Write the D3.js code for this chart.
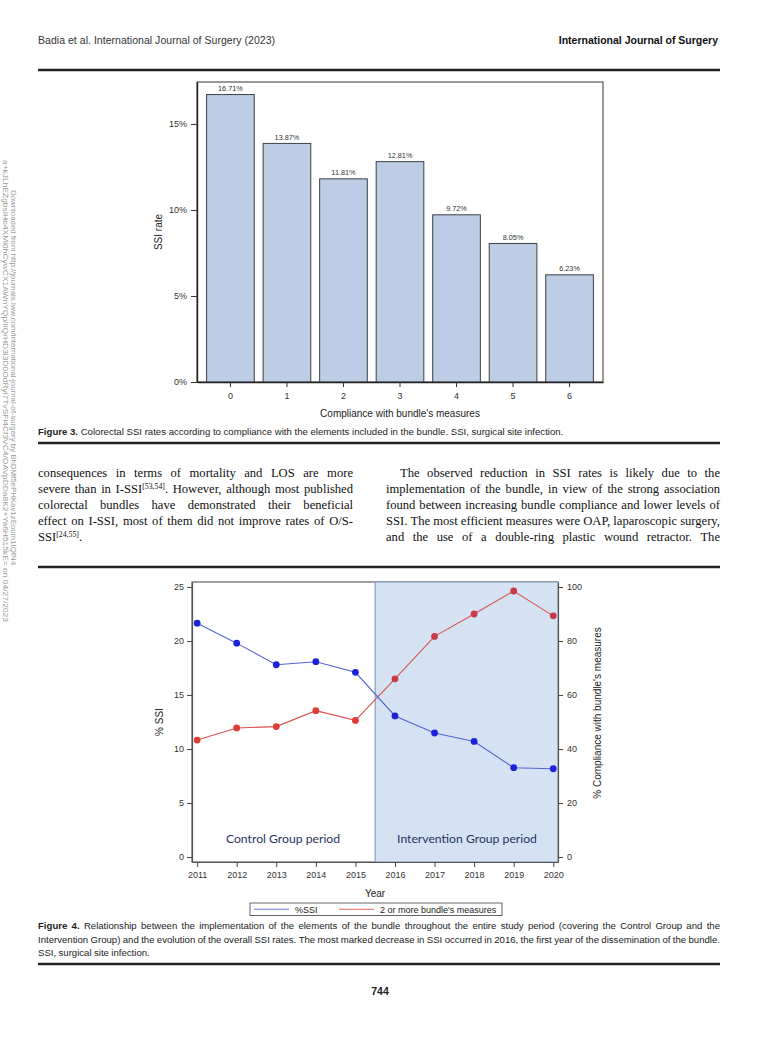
<!DOCTYPE html>
<html>
<head>
<meta charset="utf-8">
<script src="https://cdn.jsdelivr.net/npm/d3@7"></script>
<style>
  html, body { margin: 0; padding: 0; background: #fff; }
  svg { display: block; }
  .sans { font-family: "Liberation Sans", Arial, sans-serif; }
  .narrow { font-family: "Liberation Sans Narrow", "Arial Narrow", "Liberation Sans", sans-serif; }
  .serif { font-family: "Liberation Serif", "Times New Roman", serif; }
</style>
</head>
<body>
<div id="page"></div>
<script>
// ---- data: figure 3 ----
const compliance = ["0", "1", "2", "3", "4", "5", "6"];
const ssiRate = [16.71, 13.87, 11.81, 12.81, 9.72, 8.05, 6.23];
const fig3YTicks = [0, 5, 10, 15];

// ---- data: figure 4 ----
const years = [2011, 2012, 2013, 2014, 2015, 2016, 2017, 2018, 2019, 2020];
const ssiPct = [21.65, 19.8, 17.8, 18.08, 17.1, 13.06, 11.48, 10.7, 8.27, 8.17];
const bundle2plus = [43.3, 47.8, 48.3, 54.2, 50.6, 66.0, 81.7, 90.0, 98.5, 89.3];
const fig4LeftTicks = [0, 5, 10, 15, 20, 25];
const fig4RightTicks = [0, 20, 40, 60, 80, 100];
const interventionStart = 2015.5;
const periodLabels = ["Control Group period", "Intervention Group period"];
const legendLabels = ["%SSI", "2 or more bundle's measures"];

// ---- page text ("|..|" = superscript, "*" prefix = bold word) ----
const leftCol = [
  ["consequences in terms of mortality and LOS are more", true],
  ["severe than in I-SSI|[53,54]|. However, although most published", true],
  ["colorectal bundles have demonstrated their beneficial", true],
  ["effect on I-SSI, most of them did not improve rates of O/S-", true],
  ["SSI|[24,55]|.", false],
];
const rightCol = [
  ["The observed reduction in SSI rates is likely due to the", true],
  ["implementation of the bundle, in view of the strong association", true],
  ["found between increasing bundle compliance and lower levels of", true],
  ["SSI. The most efficient measures were OAP, laparoscopic surgery,", true],
  ["and the use of a double-ring plastic wound retractor. The", true],
];
const fig4Caption = [
  ["*Figure *4. Relationship between the implementation of the elements of the bundle throughout the entire study period (covering the Control Group and the", true],
  ["Intervention Group) and the evolution of the overall SSI rates. The most marked decrease in SSI occurred in 2016, the first year of the dissemination of the bundle.", true],
  ["SSI, surgical site infection.", false],
];
const watermark = [
  "Downloaded from http://journals.lww.com/international-journal-of-surgery by BhDMf5ePHKav1zEoum1tQfN4",
  "a+kJLhEZgbsIHo4XMi0hCywCX1AWnYQp/IlQrHD3i3D0OdRyi7TvSFl4Cf3VC4/OAVpDDa8K2+Ya6H515kE= on 04/27/2023",
];

const W = 759, H = 1049;
const svg = d3.select("#page").append("svg").attr("width", W).attr("height", H);

// ---- header ----
svg.append("text").attr("class", "narrow").attr("x", 38).attr("y", 44)
  .attr("font-size", 10.5).attr("fill", "#333").attr("textLength", 237)
  .text("Badia et al. International Journal of Surgery (2023)");
svg.append("text").attr("class", "narrow").attr("x", 718).attr("y", 44)
  .attr("text-anchor", "end").attr("font-size", 10.5).attr("font-weight", "bold")
  .attr("fill", "#111").text("International Journal of Surgery");

const rule = (y) => svg.append("line").attr("x1", 38).attr("x2", 720)
  .attr("y1", y).attr("y2", y).attr("stroke", "#222").attr("stroke-width", 2.6);
rule(70);
rule(443);
rule(567);
rule(964);

// ---- watermark ----
watermark.forEach((t, i) => {
  svg.append("text").attr("class", "sans")
    .attr("transform", `translate(${i === 0 ? 11 : 3},${i === 0 ? 190 : 160}) rotate(90)`)
    .attr("font-size", 7.2).attr("fill", "#9a9a9a")
    .attr("textLength", i === 0 ? 375 : 462).attr("lengthAdjust", "spacingAndGlyphs")
    .text(t);
});

// ---- justified line: each word is its own text, gaps spread evenly ----
const justifyLine = (cls, x, y, w, str, justify, size, fill) => {
  const g = svg.append("g").attr("class", cls);
  const words = str.split(" ").map((wd) => {
    const t = g.append("text").attr("y", y).attr("font-size", size).attr("fill", fill);
    let s = wd;
    if (s.startsWith("*")) { t.attr("font-weight", "bold"); s = s.slice(1); }
    s.split("|").forEach((p, i) => {
      if (!p) return;
      const ts = t.append("tspan").text(p);
      if (i % 2 === 1) ts.attr("baseline-shift", "super").attr("font-size", size * 0.62);
    });
    return t;
  });
  const widths = words.map((t) => t.node().getComputedTextLength());
  const total = d3.sum(widths);
  const gap = justify && words.length > 1 ? (w - total) / (words.length - 1) : size * 0.25;
  let cx = x;
  words.forEach((t, i) => { t.attr("x", cx); cx += widths[i] + gap; });
};

// ================= Figure 3 =================
const f3 = { left: 197, right: 603, top: 82, bottom: 382 };
const x3 = d3.scaleBand().domain(compliance).range([f3.left, f3.right])
  .paddingInner(0.157).paddingOuter(0.17);
const y3 = d3.scaleLinear().domain([0, 17.44]).range([f3.bottom, f3.top]);

const g3 = svg.append("g").attr("class", "sans");
g3.append("rect").attr("x", f3.left).attr("y", f3.top)
  .attr("width", f3.right - f3.left).attr("height", f3.bottom - f3.top)
  .attr("fill", "none").attr("stroke", "#333").attr("stroke-width", 1);

g3.selectAll("rect.bar").data(ssiRate).join("rect").attr("class", "bar")
  .attr("x", (d, i) => x3(compliance[i]))
  .attr("y", (d) => y3(d))
  .attr("width", x3.bandwidth())
  .attr("height", (d) => f3.bottom - y3(d))
  .attr("fill", "#bccde5").attr("stroke", "#3a3f48").attr("stroke-width", 1);

g3.selectAll("text.lab").data(ssiRate).join("text").attr("class", "lab")
  .attr("x", (d, i) => x3(compliance[i]) + x3.bandwidth() / 2)
  .attr("y", (d) => y3(d) - 3.5)
  .attr("text-anchor", "middle").attr("font-size", 7.3).attr("fill", "#333")
  .text((d) => d.toFixed(2) + "%");

const ax3 = g3.append("g").attr("transform", `translate(${f3.left},0)`)
  .call(d3.axisLeft(y3).tickValues(fig3YTicks).tickFormat((d) => d + "%")
    .tickSize(6).tickSizeOuter(0).tickPadding(4));
const bx3 = g3.append("g").attr("transform", `translate(0,${f3.bottom})`)
  .call(d3.axisBottom(x3).tickSize(5).tickSizeOuter(0).tickPadding(6));
[ax3, bx3].forEach((a) => {
  a.select(".domain").attr("stroke", "#222").attr("stroke-width", 1.4);
  a.selectAll(".tick line").attr("stroke", "#333");
  a.selectAll(".tick text").attr("font-size", 9).attr("fill", "#333")
    .attr("font-family", "Liberation Sans, Arial, sans-serif");
});

g3.append("text").attr("x", 400).attr("y", 417).attr("text-anchor", "middle")
  .attr("font-size", 10).attr("fill", "#222").text("Compliance with bundle's measures");
g3.append("text").attr("transform", `translate(162,232) rotate(-90)`)
  .attr("text-anchor", "middle").attr("font-size", 10).attr("fill", "#222").text("SSI rate");

// caption 3
const cap3 = svg.append("text").attr("class", "narrow").attr("x", 38).attr("y", 435)
  .attr("font-size", 9.6).attr("fill", "#222");
cap3.append("tspan").attr("font-weight", "bold").text("Figure 3.");
cap3.append("tspan").text(" Colorectal SSI rates according to compliance with the elements included in the bundle. SSI, surgical site infection.");

// ---- body text ----
leftCol.forEach(([s, j], i) => justifyLine("serif", 38, 477 + i * 16, 315, s, j, 12.6, "#111"));
rightCol.forEach(([s, j], i) => {
  const indent = i === 0 ? 14 : 0;
  justifyLine("serif", 386 + indent, 477 + i * 16, 334 - indent, s, j, 12.6, "#111");
});

// ================= Figure 4 =================
const f4 = { left: 192, right: 558, top: 582, bottom: 862 };
const x4 = d3.scaleLinear().domain([2010.87, 2020.12]).range([f4.left, f4.right]);
const yL = d3.scaleLinear().domain([-0.46, 25.46]).range([f4.bottom, f4.top]);
const yR = d3.scaleLinear().domain([-1.84, 101.84]).range([f4.bottom, f4.top]);

const g4 = svg.append("g").attr("class", "sans");
g4.append("rect").attr("x", f4.left).attr("y", f4.top)
  .attr("width", f4.right - f4.left).attr("height", f4.bottom - f4.top)
  .attr("fill", "none").attr("stroke", "#444").attr("stroke-width", 1);
g4.append("rect").attr("x", x4(interventionStart)).attr("y", f4.top)
  .attr("width", f4.right - x4(interventionStart)).attr("height", f4.bottom - f4.top)
  .attr("fill", "#d5e2f3").attr("stroke", "#8aa0bd").attr("stroke-width", 1.2);

const axL = g4.append("g").attr("transform", `translate(${f4.left},0)`)
  .call(d3.axisLeft(yL).tickValues(fig4LeftTicks).tickSize(5).tickSizeOuter(0).tickPadding(3));
const axR = g4.append("g").attr("transform", `translate(${f4.right},0)`)
  .call(d3.axisRight(yR).tickValues(fig4RightTicks).tickSize(5).tickSizeOuter(0).tickPadding(4));
const axB = g4.append("g").attr("transform", `translate(0,${f4.bottom})`)
  .call(d3.axisBottom(x4).tickValues(years).tickFormat(d3.format("d"))
    .tickSize(5).tickSizeOuter(0).tickPadding(5));
[axL, axR, axB].forEach((a) => {
  a.select(".domain").attr("stroke", "#555").attr("stroke-width", 1.2);
  a.selectAll(".tick line").attr("stroke", "#444");
  a.selectAll(".tick text").attr("font-size", 9).attr("fill", "#333")
    .attr("font-family", "Liberation Sans, Arial, sans-serif");
});

const ssiLine = d3.line().x((d, i) => x4(years[i])).y((d) => yL(d));
const bundleLine = d3.line().x((d, i) => x4(years[i])).y((d) => yR(d));
g4.append("path").datum(bundle2plus).attr("d", bundleLine)
  .attr("fill", "none").attr("stroke", "#d9534f").attr("stroke-width", 1.1);
g4.append("path").datum(ssiPct).attr("d", ssiLine)
  .attr("fill", "none").attr("stroke", "#5563d6").attr("stroke-width", 1.1);
g4.selectAll("circle.b").data(bundle2plus).join("circle").attr("class", "b")
  .attr("cx", (d, i) => x4(years[i])).attr("cy", (d) => yR(d)).attr("r", 3.4)
  .attr("fill", (d, i) => (years[i] > interventionStart ? "#c8394a" : "#e03a35"));
g4.selectAll("circle.s").data(ssiPct).join("circle").attr("class", "s")
  .attr("cx", (d, i) => x4(years[i])).attr("cy", (d) => yL(d)).attr("r", 3.4)
  .attr("fill", "#1c22d8");

g4.selectAll("text.period").data(periodLabels).join("text").attr("class", "period")
  .attr("x", (d, i) => (i === 0 ? 283 : 467)).attr("y", 843)
  .attr("text-anchor", "middle").attr("font-family", "Lato, 'Open Sans', sans-serif")
  .attr("font-size", 12.2).attr("fill", "#1f3361").text((d) => d);

g4.append("text").attr("x", 375).attr("y", 897).attr("text-anchor", "middle")
  .attr("font-size", 10).attr("fill", "#222").text("Year");
g4.append("text").attr("transform", `translate(163,722) rotate(-90)`)
  .attr("text-anchor", "middle").attr("font-size", 10).attr("fill", "#222").text("% SSI");
g4.append("text").attr("transform", `translate(601,713) rotate(-90)`)
  .attr("text-anchor", "middle").attr("font-size", 10).attr("fill", "#222")
  .text("% Compliance with bundle's measures");

// legend
const lg = g4.append("g");
lg.append("rect").attr("x", 250).attr("y", 903).attr("width", 252).attr("height", 12.5)
  .attr("fill", "#fff").attr("stroke", "#555").attr("stroke-width", 0.9);
const legendColors = ["#6e78d8", "#e06262"];
const legendX = [254, 339];
legendLabels.forEach((l, i) => {
  lg.append("line").attr("x1", legendX[i]).attr("x2", legendX[i] + 35)
    .attr("y1", 909.3).attr("y2", 909.3).attr("stroke", legendColors[i]).attr("stroke-width", 1.1);
  lg.append("text").attr("x", legendX[i] + 41).attr("y", 912.5)
    .attr("font-size", 9).attr("fill", "#222").text(l);
});

// caption 4
fig4Caption.forEach(([s, j], i) =>
  justifyLine("narrow", 38, 929 + i * 13.5, 682, s, j, 9.6, "#222"));

svg.append("text").attr("class", "narrow").attr("x", 380).attr("y", 995)
  .attr("text-anchor", "middle").attr("font-size", 10.5).attr("font-weight", "bold")
  .attr("fill", "#222").text("744");
</script>
</body>
</html>
